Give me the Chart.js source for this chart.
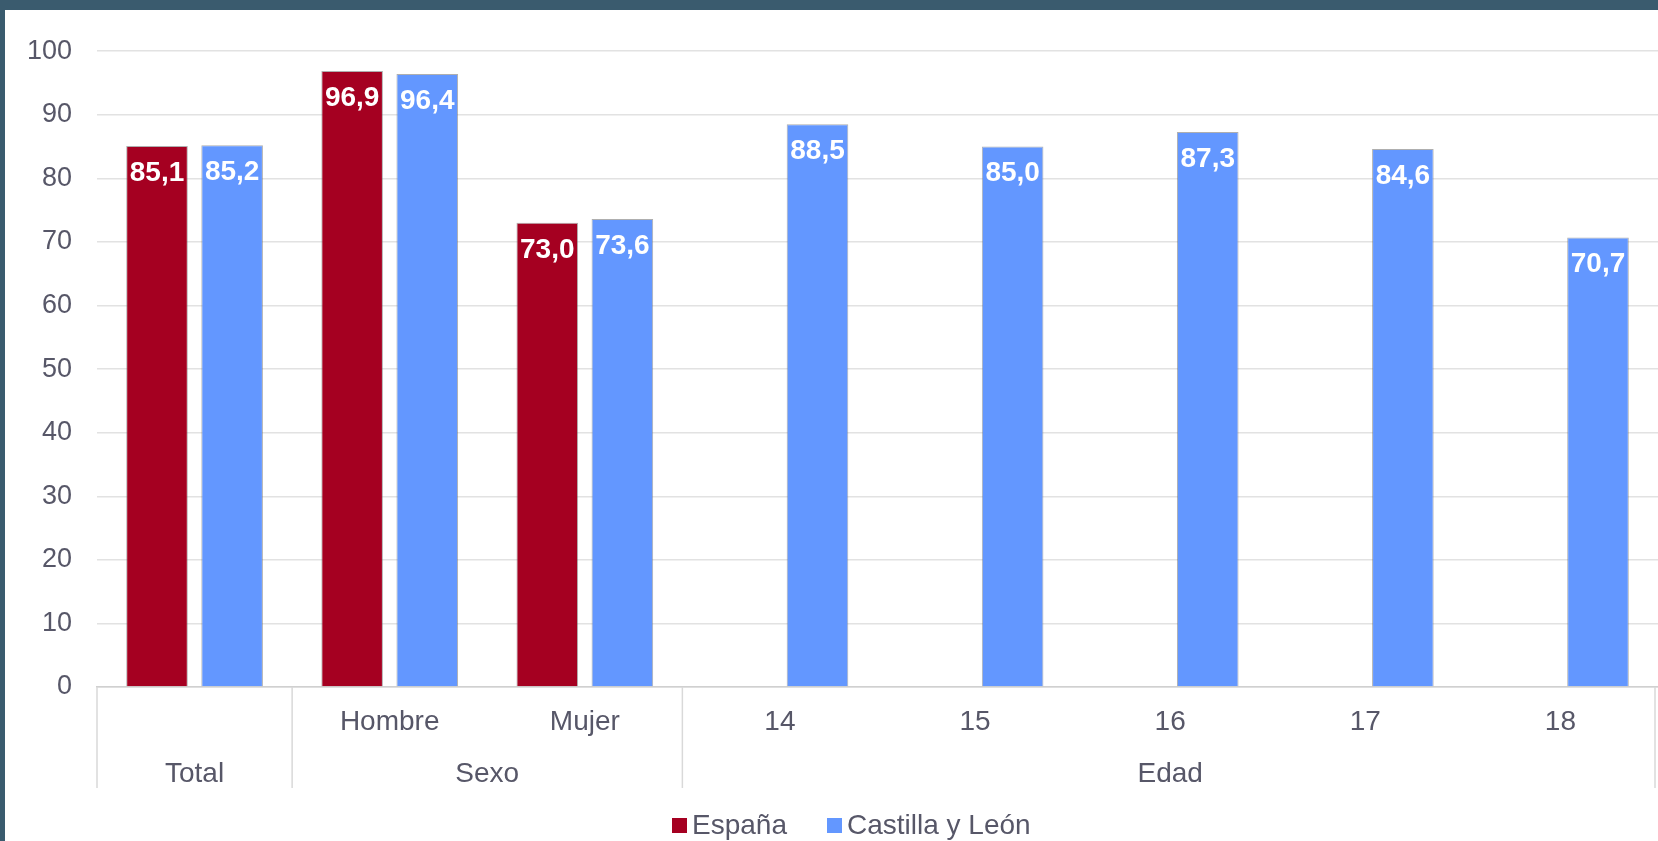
<!DOCTYPE html>
<html><head><meta charset="utf-8">
<script src="https://cdn.jsdelivr.net/npm/chart.js@4"></script>
<style>
html,body{margin:0;padding:0;background:#3a5b6e;width:1658px;height:841px;overflow:hidden;}
#wrap{position:absolute;left:5px;top:10px;width:1653px;height:831px;background:#fff;overflow:hidden;}
#c{position:absolute;left:0;top:0;}
#legend{position:absolute;left:667px;top:801px;height:28px;font:28px "Liberation Sans",Arial,sans-serif;color:#575768;display:flex;align-items:center;white-space:nowrap;line-height:28px;}
.sw{display:inline-block;width:15px;height:15px;margin-right:5px;}
.item{display:flex;align-items:center;margin-right:40px;}
</style></head>
<body>
<div id="wrap"><canvas id="c" width="1653" height="831"></canvas>
<div id="legend"></div></div>
<script>
const categories = ['Total','Hombre','Mujer','14','15','16','17','18'];
const tickLabels = ['', 'Hombre','Mujer','14','15','16','17','18'];
const groupNames = ['Total','Sexo','Edad'];
const groupStart = [0,1,3];
const groupEnd = [0,2,7];
const seriesNames = ['España','Castilla y León'];
const espana = [85.1,96.9,73.0,null,null,null,null,null];
const castilla = [85.2,96.4,73.6,88.5,85.0,87.3,84.6,70.7];
const yTickValues = [0,10,20,30,40,50,60,70,80,90,100];
const colors = ['#a50021','#6397ff'];
const textColor = '#575768';
const FONT = '"Liberation Sans", Arial, sans-serif';

// legend
const lg = document.getElementById('legend');
seriesNames.forEach((n,i)=>{
  const it = document.createElement('span'); it.className='item';
  const sw = document.createElement('span'); sw.className='sw'; sw.style.background=colors[i];
  it.appendChild(sw); it.appendChild(document.createTextNode(n)); lg.appendChild(it);
});

const extras = {
  id:'extras',
  afterDatasetsDraw(chart){
    const ctx = chart.ctx;
    ctx.save();
    ctx.fillStyle = '#ffffff';
    ctx.font = 'bold 28px ' + FONT;
    ctx.textAlign = 'center';
    ctx.textBaseline = 'middle';
    chart.data.datasets.forEach((ds,di)=>{
      const meta = chart.getDatasetMeta(di);
      meta.data.forEach((el,i)=>{
        const v = ds.data[i];
        if (v === null || v === undefined) return;
        ctx.fillText(v.toFixed(1).replace('.', ','), el.x, el.y + 27);
      });
    });
    ctx.restore();
  },
  afterDraw(chart){
    const ctx = chart.ctx, xs = chart.scales.x, area = chart.chartArea;
    const half = (xs.getPixelForValue(1) - xs.getPixelForValue(0)) / 2;
    ctx.save();
    ctx.strokeStyle = '#d9d9d9';
    ctx.lineWidth = 1.5;
    const y0 = area.bottom, y1 = area.bottom + 101;
    const bounds = groupStart.map(s => xs.getPixelForValue(s) - half);
    bounds.push(xs.getPixelForValue(groupEnd[groupEnd.length-1]) + half - 3);
    bounds.forEach(x=>{ ctx.beginPath(); ctx.moveTo(x,y0); ctx.lineTo(x,y1); ctx.stroke(); });
    ctx.fillStyle = textColor;
    ctx.font = '28px ' + FONT;
    ctx.textAlign = 'center';
    ctx.textBaseline = 'middle';
    groupNames.forEach((g,i)=>{
      const cx = (xs.getPixelForValue(groupStart[i]) + xs.getPixelForValue(groupEnd[i])) / 2;
      ctx.fillText(g, cx, area.bottom + 87);
    });
    ctx.restore();
  }
};

new Chart(document.getElementById('c'), {
  type:'bar',
  data:{
    labels: tickLabels,
    datasets:[
      {label:seriesNames[0], data:espana, backgroundColor:colors[0], borderColor:'rgba(110,110,110,0.55)', borderWidth:1, categoryPercentage:0.77, barPercentage:0.82},
      {label:seriesNames[1], data:castilla, backgroundColor:colors[1], borderColor:'rgba(110,110,110,0.55)', borderWidth:1, categoryPercentage:0.77, barPercentage:0.82}
    ]
  },
  options:{
    responsive:false,
    animation:false,
    devicePixelRatio:1,
    layout:{padding:{top:36,right:0,left:0,bottom:0}},
    plugins:{legend:{display:false}, tooltip:{enabled:false}},
    scales:{
      x:{
        grid:{display:false, drawTicks:false},
        border:{display:true, color:'#d0d0d0', width:1.5},
        ticks:{font:{family:FONT,size:28}, color:textColor, padding:18, maxRotation:0, autoSkip:false},
        afterFit(s){ s.height = 154; }
      },
      y:{
        min:yTickValues[0], max:yTickValues[yTickValues.length-1],
        afterBuildTicks(s){ s.ticks = yTickValues.map(v=>({value:v})); },
        ticks:{font:{family:FONT,size:27}, color:textColor, padding:25},
        grid:{color:'#e2e2e2', lineWidth:1.5, drawTicks:false},
        border:{display:false},
        afterFit(s){ s.width = 92; }
      }
    }
  },
  plugins:[extras]
});
</script>
</body></html>
